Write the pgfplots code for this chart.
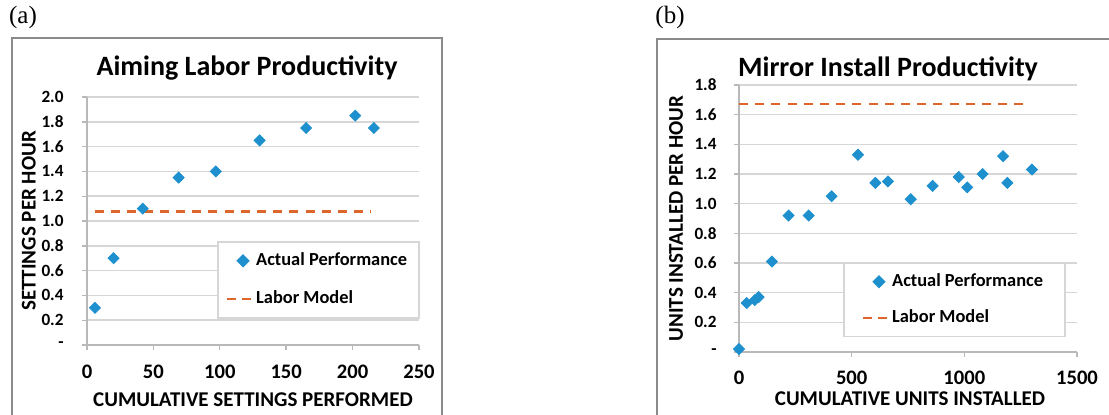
\documentclass[border=0pt]{standalone}
\usepackage{fontspec}
\setmainfont{Carlito}
\newfontfamily\timesf{Liberation Serif}
\usepackage{pgfplots}
\pgfplotsset{compat=1.18}
\definecolor{mblue}{RGB}{30,144,206}
\definecolor{morange}{RGB}{222,102,42}
\definecolor{gridc}{RGB}{214,214,214}
\definecolor{axc}{RGB}{185,185,185}
\definecolor{framec}{RGB}{138,138,138}
\pgfplotsset{
  panel/.style={
    scale only axis,
    clip=false,
    axis lines=left,
    axis line style={-, draw=axc, line width=0.7pt},
    ymajorgrids,
    grid style={draw=gridc, line width=0.8pt},
    tick align=outside,
    major tick length=2.5pt,
    tick style={draw=axc, line width=0.7pt},
    xticklabel style={font=\fontsize{10.3}{12}\selectfont\bfseries},
    yticklabel style={font=\fontsize{8.6}{10}\selectfont\bfseries},
    label style={font=\fontsize{10.5}{12}\selectfont\bfseries},
    title style={font=\fontsize{14}{16}\selectfont\bfseries, anchor=center, yshift=-6pt},
    legend cell align=left,
  },
  actual/.style={only marks, mark=square*, mark size=1.95pt,
    mark options={rotate=45, fill=mblue, draw=mblue},
    legend image code/.code={\path (0pt,0pt) (12pt,0pt); \draw[##1] plot coordinates {(8pt,0pt)};}},
  model/.style={morange, line width=1.1pt, dash pattern=on 4.5pt off 3.6pt,
    legend image code/.code={\draw[##1, dash pattern=on 4.5pt off 3pt] (0pt,0pt) -- (12pt,0pt);}},
}
\begin{document}
\begin{tikzpicture}
\useasboundingbox (0,0) rectangle (554.5pt,207pt);
% frames
\draw[framec, line width=1.3pt] (6pt,-5pt) -- (6pt,188pt) -- (221pt,188pt) -- (221pt,-5pt);
\draw[framec, line width=1.3pt] (328.5pt,-5pt) -- (328.5pt,187.5pt) -- (560pt,187.5pt);
\node[font=\timesf\fontsize{12.5}{14}\selectfont] at (11.5pt,198.5pt) {(a)};
\node[font=\timesf\fontsize{12.5}{14}\selectfont] at (335pt,198.5pt) {(b)};

\begin{axis}[panel,
  at={(43.5pt,34.5pt)}, anchor=south west,
  width=166pt, height=124pt,
  xmin=0, xmax=250, ymin=0, ymax=2.0,
  xtick={0,50,100,150,200,250},
  xticklabels={0,50,100,150,200,250},
  ytick={0,0.2,0.4,0.6,0.8,1.0,1.2,1.4,1.6,1.8,2.0},
  yticklabels={-,0.2,0.4,0.6,0.8,1.0,1.2,1.4,1.6,1.8,2.0},
  xticklabel style={yshift=-3.8pt},
  yticklabel style={xshift=-5.7pt},
  title={Aiming Labor Productivity},
  title style={at={(axis description cs:0.482,1.115)}},
  xlabel={CUMULATIVE SETTINGS PERFORMED},
  xlabel style={at={(axis description cs:0.5,-0.222)}, anchor=center},
  ylabel={SETTINGS PER HOUR},
  ylabel style={at={(axis description cs:-0.175,0.5)}, anchor=center},
  legend style={at={(axis description cs:0.392,0.419)}, anchor=north west,
    draw=gridc, line width=0.8pt, fill=white,
    font=\fontsize{9.2}{11}\selectfont\bfseries,
    inner xsep=4pt, inner ysep=3.5pt, row sep=7pt},
]
\addplot[actual] coordinates {
  (6,0.30) (20,0.70) (42,1.10) (69,1.35) (97,1.40)
  (130,1.65) (165,1.75) (202,1.85) (216,1.75)
};
\addlegendentry{Actual Performance}
\addplot[model] coordinates {(6,1.077) (214,1.077)};
\addlegendentry{Labor Model}
\end{axis}

\begin{axis}[panel,
  at={(369.5pt,31pt)}, anchor=south west,
  width=169pt, height=133.5pt,
  xmin=0, xmax=1500, ymin=0, ymax=1.8,
  xtick={0,500,1000,1500},
  xticklabels={0,500,1000,1500},
  ytick={0,0.2,0.4,0.6,0.8,1.0,1.2,1.4,1.6,1.8},
  yticklabels={-,0.2,0.4,0.6,0.8,1.0,1.2,1.4,1.6,1.8},
  xticklabel style={yshift=-3.6pt},
  yticklabel style={xshift=-5.2pt},
  title={Mirror Install Productivity},
  title style={at={(axis description cs:0.441,1.062)}},
  xlabel={CUMULATIVE UNITS INSTALLED},
  xlabel style={at={(axis description cs:0.506,-0.176)}, anchor=center},
  ylabel={UNITS INSTALLED PER HOUR},
  ylabel style={at={(axis description cs:-0.186,0.5)}, anchor=center},
  legend style={at={(axis description cs:0.308,0.337)}, anchor=north west,
    draw=gridc, line width=0.8pt, fill=white,
    font=\fontsize{9.2}{11}\selectfont\bfseries,
    inner xsep=9pt, inner ysep=3.5pt, row sep=6pt},
]
\addplot[actual] coordinates {
  (0,0.02) (34,0.33) (70,0.35) (87,0.37) (146,0.61) (220,0.92)
  (309,0.92) (411,1.05) (528,1.33) (605,1.14) (661,1.15) (762,1.03)
  (859,1.12) (975,1.18) (1013,1.11) (1081,1.20) (1172,1.32)
  (1191,1.14) (1300,1.23)
};
\addlegendentry{Actual Performance}
\addplot[model] coordinates {(0,1.67) (1272,1.67)};
\addlegendentry{Labor Model}
\end{axis}
\end{tikzpicture}
\end{document}
